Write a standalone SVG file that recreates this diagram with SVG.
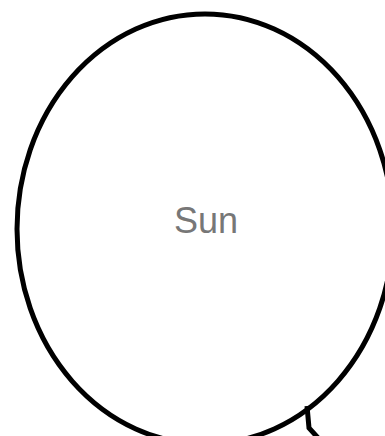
<svg xmlns="http://www.w3.org/2000/svg" width="385" height="436" viewBox="0 0 385 436">
<style>
.node{fill:#fff;stroke:#000;stroke-width:5}
.lbl{font-family:"Liberation Sans",Arial,sans-serif;font-size:36px;fill:#777;text-anchor:middle}
.edge{fill:none;stroke:#000;stroke-width:5}
</style>
<rect width="385" height="436" fill="#fff"/>
<g id="sun">
<ellipse class="node" cx="205" cy="229" rx="188" ry="215"/>
<text class="lbl" x="206" y="233">Sun</text>
</g>
<g id="connectors">
<path class="edge" d="M307,406 L309,428 L320,440"/>
</g>
</svg>
